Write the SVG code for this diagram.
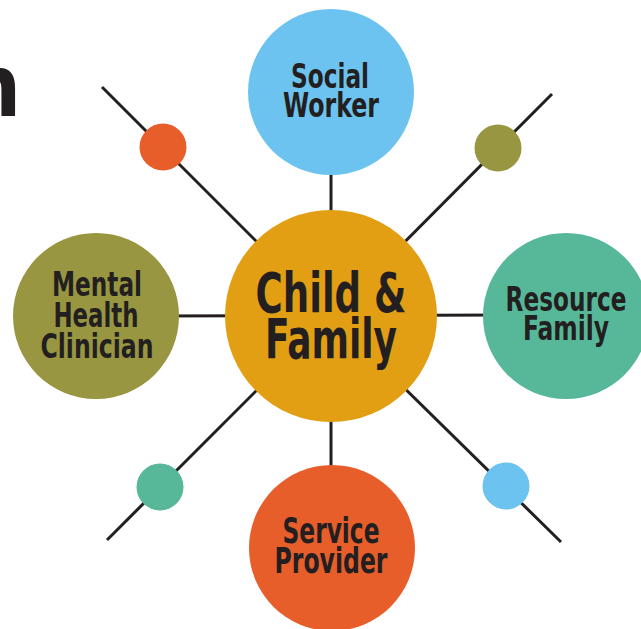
<svg xmlns="http://www.w3.org/2000/svg" width="641" height="629" viewBox="0 0 641 629">
<style>
.t{font-family:"DejaVu Sans Condensed","Liberation Sans Narrow","Liberation Sans",sans-serif;font-weight:bold;fill:#231f20;text-anchor:middle}
.ln{stroke:#231f20;stroke-width:3;fill:none}
</style>
<rect width="641" height="629" fill="#ffffff"/>
<text class="t" x="21" y="116" font-size="86" style="text-anchor:end">n</text>
<g id="connectors">
<line class="ln" x1="102" y1="87" x2="331" y2="316"/>
<line class="ln" x1="552" y1="94" x2="331" y2="316"/>
<line class="ln" x1="107" y1="540" x2="331" y2="316"/>
<line class="ln" x1="561" y1="542" x2="331" y2="316"/>
<line class="ln" x1="331" y1="150" x2="331" y2="480"/>
<line class="ln" x1="150" y1="316" x2="520" y2="315"/>
</g>
<g id="dot-orange"><circle cx="163" cy="147" r="23.5" fill="#e75e2b"/></g>
<g id="dot-olive"><circle cx="498" cy="148" r="23.5" fill="#999642"/></g>
<g id="dot-teal"><circle cx="160" cy="487" r="23.5" fill="#56b899"/></g>
<g id="dot-blue"><circle cx="506" cy="486" r="23.5" fill="#6cc3ef"/></g>
<g id="social-worker">
<circle cx="331" cy="92" r="83" fill="#6cc3ef"/>
<text class="t" x="330" y="88" font-size="34" textLength="78" lengthAdjust="spacingAndGlyphs">Social</text>
<text class="t" x="331" y="117" font-size="34" textLength="96" lengthAdjust="spacingAndGlyphs">Worker</text>
</g>
<g id="mental-health-clinician">
<circle cx="96" cy="316" r="83" fill="#999642"/>
<text class="t" x="97" y="296" font-size="33" textLength="90" lengthAdjust="spacingAndGlyphs">Mental</text>
<text class="t" x="96" y="327" font-size="33" textLength="85" lengthAdjust="spacingAndGlyphs">Health</text>
<text class="t" x="97" y="358" font-size="33" textLength="113" lengthAdjust="spacingAndGlyphs">Clinician</text>
</g>
<g id="resource-family">
<circle cx="566" cy="316" r="83" fill="#56b899"/>
<text class="t" x="566" y="311" font-size="33" textLength="121" lengthAdjust="spacingAndGlyphs">Resource</text>
<text class="t" x="566" y="340" font-size="33" textLength="86" lengthAdjust="spacingAndGlyphs">Family</text>
</g>
<g id="service-provider">
<circle cx="332" cy="548" r="83" fill="#e75e2b"/>
<text class="t" x="331" y="543" font-size="35" textLength="97" lengthAdjust="spacingAndGlyphs">Service</text>
<text class="t" x="331" y="573" font-size="35" textLength="113" lengthAdjust="spacingAndGlyphs">Provider</text>
</g>
<g id="child-family">
<circle cx="331" cy="316" r="106" fill="#e29f14"/>
<text class="t" x="331" y="312" font-size="55" textLength="151" lengthAdjust="spacingAndGlyphs">Child &amp;</text>
<text class="t" x="331" y="358" font-size="55" textLength="132" lengthAdjust="spacingAndGlyphs">Family</text>
</g>
</svg>
